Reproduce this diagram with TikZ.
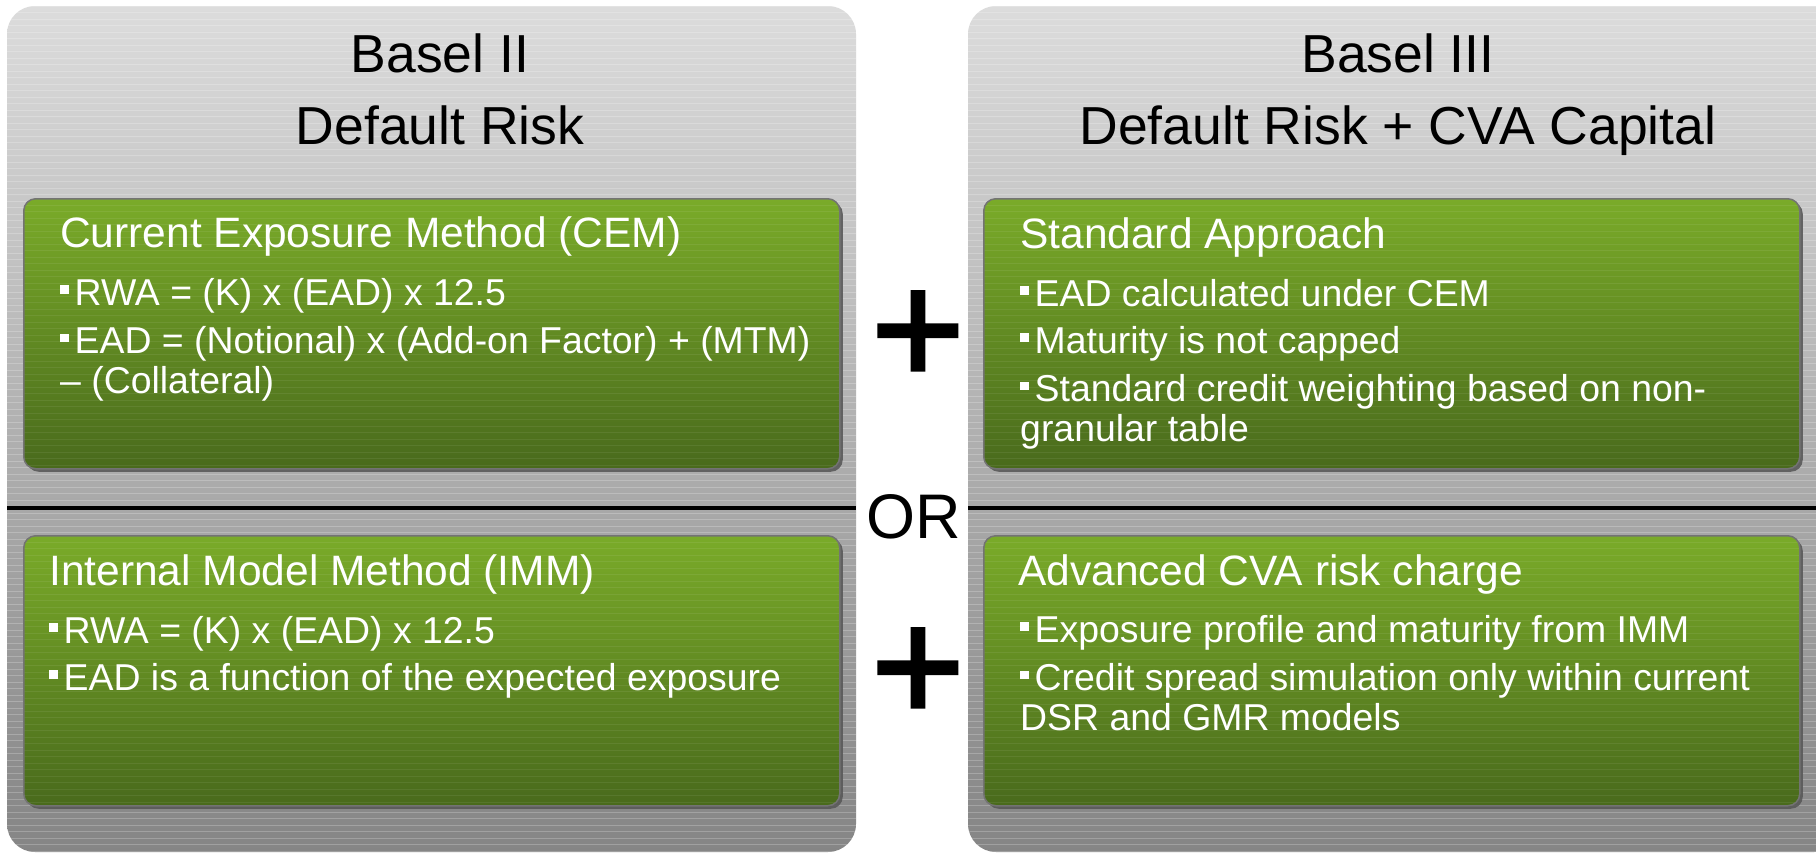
\documentclass[tikz,border=0pt]{standalone}
\usepackage{fontspec}
\setmainfont{Liberation Sans}
\newfontfamily\plusfont{Liberation Sans}[FakeBold=2]
\usetikzlibrary{shadows,calc}
\definecolor{gtop}{HTML}{7AAB29}
\definecolor{gbot}{HTML}{496A1C}
\definecolor{ptop}{HTML}{DCDCDC}
\definecolor{pmid}{HTML}{B4B4B4}
\definecolor{pbot}{HTML}{858585}
\newcommand\sqb{\rule[11.5pt]{8.5pt}{8.5pt}\hspace{6pt}}
\tikzset{
  stripes/.style={path picture={\foreach \k in {0,...,130}
      \draw[white,opacity=#1,line width=1pt]
        ([yshift=-\k*6.5pt]path picture bounding box.north west) --
        ([yshift=-\k*6.5pt]path picture bounding box.north east);}},
  panel/.style={top color=ptop, middle color=pmid, bottom color=pbot,
      rounded corners=28pt, stripes=0.22},
  gbox/.style={draw=black!55, line width=1.5pt, rounded corners=12pt,
      top color=gtop, bottom color=gbot, anchor=north west, inner sep=0pt,
      minimum width=816pt, minimum height=270pt,
      drop shadow={shadow xshift=3pt, shadow yshift=-3pt, fill=black!65, opacity=0.9},
      stripes=0.07},
  head/.style={font=\fontsize{53.5}{56}\selectfont, text=black, anchor=base, inner sep=0pt},
  btitle/.style={font=\fontsize{42.5}{44}\selectfont, text=white, anchor=base west, inner sep=0pt},
  bline/.style={font=\fontsize{37.4}{39.5}\selectfont, text=white, anchor=base west, inner sep=0pt, align=left},
  ortext/.style={font=\fontsize{63}{66}\selectfont, text=black, anchor=base, inner sep=0pt},
  plussign/.style={font=\plusfont\fontsize{160}{170}\selectfont, text=black, anchor=base, inner sep=0pt},
  sep/.style={line width=4pt, black}
}
\begin{document}
\begin{tikzpicture}[x=1pt,y=-1pt]
\useasboundingbox (0,0) rectangle (1816,852);
\fill[white] (0,0) rectangle (1816,852);
% panels
\path[panel] (7,6) rectangle (856,852);
\path[panel] (968,6) rectangle (1842,852);
% headings
\node[head] (h1) at (440,72) {Basel II};
\node[head] (h2) at (440,144) {Default Risk};
\node[head] (h3) at (1398,72) {Basel III};
\node[head] (h4) at (1398,144) {Default Risk + CVA Capital};
% green boxes
\node[gbox] (cem) at (23,198) {};
\node[gbox] (std) at (983,198) {};
\node[gbox] (imm) at (23,535) {};
\node[gbox] (cva) at (983,535) {};
% CEM
\node[btitle] (cemT) at ($(cem.north west)+(37,49)$) {Current Exposure Method (CEM)};
\node[bline] (cem1) at ($(cem.north west)+(37,107)$) {\sqb RWA = (K) x (EAD) x 12.5};
\node[bline] (cem2) at ($(cem.north west)+(37,195)$) {\sqb EAD = (Notional) x (Add-on Factor) + (MTM)\\– (Collateral)};
% Standard
\node[btitle] (stdT) at ($(std.north west)+(37,50)$) {Standard Approach};
\node[bline] (std1) at ($(std.north west)+(37,108)$) {\sqb EAD calculated under CEM};
\node[bline] (std2) at ($(std.north west)+(37,155)$) {\sqb Maturity is not capped};
\node[bline] (std3) at ($(std.north west)+(37,243)$) {\sqb Standard credit weighting based on non-\\granular table};
% IMM
\node[btitle] (immT) at ($(imm.north west)+(26,50)$) {Internal Model Method (IMM)};
\node[bline] (imm1) at ($(imm.north west)+(26,108)$) {\sqb RWA = (K) x (EAD) x 12.5};
\node[bline] (imm2) at ($(imm.north west)+(26,155)$) {\sqb EAD is a function of the expected exposure};
% CVA
\node[btitle] (cvaT) at ($(cva.north west)+(35,50)$) {Advanced CVA risk charge};
\node[bline] (cva1) at ($(cva.north west)+(37,107)$) {\sqb Exposure profile and maturity from IMM};
\node[bline] (cva2) at ($(cva.north west)+(37,195)$) {\sqb Credit spread simulation only within current\\DSR and GMR models};
% separators and OR
\coordinate (sl1) at (7,508);
\coordinate (sl2) at (856,508);
\coordinate (sr1) at (968,508);
\coordinate (sr2) at (1816,508);
\draw[sep] (sl1) -- (sl2);
\draw[sep] (sr1) -- (sr2);
\node[ortext] (or) at (914,538) {OR};
% plus signs
\node[plussign] (p1) at (918,384) {+};
\node[plussign] (p2) at (918,721) {+};
\end{tikzpicture}
\end{document}
